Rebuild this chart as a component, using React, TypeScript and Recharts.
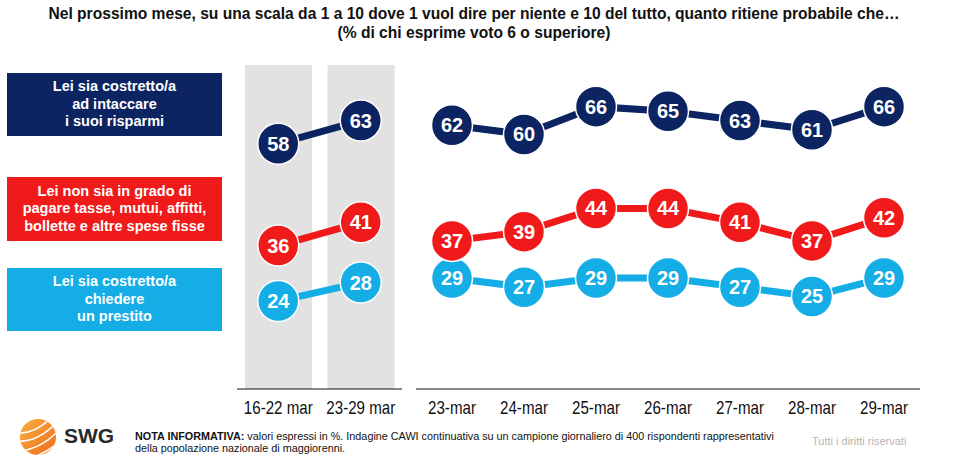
import React from 'react';
import { ComposedChart, Line, Bar, XAxis, YAxis } from 'recharts';

// ---------- data ----------
const weeklyCategories = ['16-22 mar', '23-29 mar'];
const weeklyRisparmi = [58, 63];
const weeklySpese = [36, 41];
const weeklyPrestito = [24, 28];

const dailyCategories = ['23-mar', '24-mar', '25-mar', '26-mar', '27-mar', '28-mar', '29-mar'];
const dailyRisparmi = [62, 60, 66, 65, 63, 61, 66];
const dailySpese = [37, 39, 44, 44, 41, 37, 42];
const dailyPrestito = [29, 27, 29, 29, 27, 25, 29];

const seriesLabels = [
  ['Lei sia costretto/a', 'ad intaccare', 'i suoi risparmi'],
  ['Lei non sia in grado di', 'pagare tasse, mutui, affitti,', 'bollette e altre spese fisse'],
  ['Lei sia costretto/a', 'chiedere', 'un prestito'],
];

const titleLines = [
  'Nel prossimo mese, su una scala da 1 a 10 dove 1 vuol dire per niente e 10 del tutto, quanto ritiene probabile che…',
  '(% di chi esprime voto 6 o superiore)',
];

const yDomain: [number, number] = [5, 75];

// ---------- styles ----------
const NAVY = '#0c2461';
const RED = '#f01a1a';
const LIGHTBLUE = '#14ade6';
const GREY = '#e2e2e2';
const SANS = '"Liberation Sans", Arial, sans-serif';

const weeklyData = weeklyCategories.map((c, i) => ({
  cat: c,
  risparmi: weeklyRisparmi[i],
  spese: weeklySpese[i],
  prestito: weeklyPrestito[i],
}));
const dailyData = dailyCategories.map((c, i) => ({
  cat: c,
  risparmi: dailyRisparmi[i],
  spese: dailySpese[i],
  prestito: dailyPrestito[i],
}));

const makeDot = (color: string, key: string) => (props: any) => {
  const { cx, cy, index, payload } = props;
  if (cx == null || cy == null) return <g key={`${key}-${index}`} />;
  const v = payload ? payload[key] : props.value;
  return (
    <g key={`${key}-${index}`}>
      <circle cx={cx} cy={cy} r={20.5} fill={color} stroke="#ffffff" strokeWidth={1.5} />
      <text
        x={cx}
        y={cy}
        dy={7}
        textAnchor="middle"
        fill="#ffffff"
        fontSize={20}
        fontWeight="bold"
        fontFamily={SANS}
      >
        {v}
      </text>
    </g>
  );
};

const NarrowTick = (props: any) => {
  const { x, y, payload } = props;
  return (
    <g transform={`translate(${x},${y})`}>
      <text
        transform="scale(0.84,1)"
        textAnchor="middle"
        dy="0.71em"
        fontSize={18}
        fill="#111"
        fontFamily={SANS}
      >
        {payload.value}
      </text>
    </g>
  );
};

function Panel({ data, withBg }: { data: any[]; withBg: boolean }) {
  const width = withBg ? 165 : 504;
  return (
    <ComposedChart width={width} height={354} data={data} margin={{ top: 0, right: 0, bottom: 0, left: 0 }}>
      <XAxis
        dataKey="cat"
        scale="band"
        height={30}
        tickLine={false}
        tickSize={0}
        tickMargin={12}
        axisLine={{ stroke: '#111', strokeWidth: 1 }}
        tick={<NarrowTick />}
        interval={0}
      />
      <YAxis hide domain={yDomain} type="number" allowDataOverflow />
      {withBg && (
        <Bar
          dataKey="risparmi"
          fill="transparent"
          barSize={67}
          background={{ fill: GREY }}
          isAnimationActive={false}
        />
      )}
      <Line
        dataKey="prestito"
        stroke={LIGHTBLUE}
        strokeWidth={7}
        dot={makeDot(LIGHTBLUE, 'prestito')}
        activeDot={false}
        isAnimationActive={false}
      />
      <Line
        dataKey="spese"
        stroke={RED}
        strokeWidth={7}
        dot={makeDot(RED, 'spese')}
        activeDot={false}
        isAnimationActive={false}
      />
      <Line
        dataKey="risparmi"
        stroke={NAVY}
        strokeWidth={7}
        dot={makeDot(NAVY, 'risparmi')}
        activeDot={false}
        isAnimationActive={false}
      />
    </ComposedChart>
  );
}

const boxes = [
  { color: NAVY, top: 73, height: 63 },
  { color: RED, top: 177, height: 64 },
  { color: LIGHTBLUE, top: 268, height: 63 },
];

function Logo() {
  return (
    <svg width={40} height={40} viewBox="0 0 40 40" style={{ position: 'absolute', left: 18, top: 417 }}>
      <defs>
        <linearGradient id="swgGrad" x1="0" y1="0" x2="1" y2="1">
          <stop offset="0%" stopColor="#fbb040" />
          <stop offset="100%" stopColor="#ee6a1c" />
        </linearGradient>
        <clipPath id="swgClip">
          <circle cx={20} cy={20} r={18} />
        </clipPath>
      </defs>
      <circle cx={20} cy={20} r={18} fill="url(#swgGrad)" />
      <g clipPath="url(#swgClip)" stroke="#ffffff" strokeWidth={1.6} fill="none">
        <path d="M -2 16 Q 16 18 34 0" />
        <path d="M -2 24 Q 20 26 40 4" />
        <path d="M 2 34 Q 24 32 42 12" />
        <path d="M 10 42 Q 30 36 44 22" />
      </g>
    </svg>
  );
}

export default function App() {
  return (
    <div
      style={{
        position: 'absolute',
        left: 0,
        top: 0,
        width: 955,
        height: 466,
        background: '#ffffff',
        overflow: 'hidden',
        fontFamily: SANS,
      }}
    >
      {/* title */}
      <div
        style={{
          position: 'absolute',
          left: 0,
          top: 4,
          width: 948,
          textAlign: 'center',
          fontFamily: SANS,
          fontWeight: 'bold',
          fontSize: 15.6,
          lineHeight: '19px',
          color: '#111',
        }}
      >
        {titleLines.map((t, i) => (
          <div key={i}>{t}</div>
        ))}
      </div>

      {/* series label boxes */}
      {boxes.map((b, i) => (
        <div
          key={i}
          style={{
            position: 'absolute',
            left: 7,
            top: b.top,
            width: 215,
            height: b.height,
            background: b.color,
            color: '#ffffff',
            fontWeight: 'bold',
            fontSize: 14.5,
            lineHeight: '17.5px',
            display: 'flex',
            flexDirection: 'column',
            justifyContent: 'center',
            alignItems: 'center',
            textAlign: 'center',
          }}
        >
          {seriesLabels[i].map((l, j) => (
            <div key={j}>{l}</div>
          ))}
        </div>
      ))}

      {/* weekly panel */}
      <div style={{ position: 'absolute', left: 237, top: 65 }}>
        <Panel data={weeklyData} withBg />
      </div>

      {/* daily panel */}
      <div style={{ position: 'absolute', left: 416, top: 65 }}>
        <Panel data={dailyData} withBg={false} />
      </div>

      {/* footer */}
      <Logo />
      <div
        style={{
          position: 'absolute',
          left: 64,
          top: 424,
          fontFamily: SANS,
          fontWeight: 'bold',
          fontSize: 21,
          color: '#2a2a2a',
          lineHeight: '24px',
        }}
      >
        SWG
      </div>
      <div
        style={{
          position: 'absolute',
          left: 135,
          top: 430,
          fontFamily: SANS,
          fontSize: 10.8,
          lineHeight: '12px',
          color: '#111',
          whiteSpace: 'nowrap',
        }}
      >
        <div>
          <b>NOTA INFORMATIVA:</b> valori espressi in %. Indagine CAWI continuativa su un campione giornaliero di 400
          rispondenti rappresentativi
        </div>
        <div>della popolazione nazionale di maggiorenni.</div>
      </div>
      <div
        style={{
          position: 'absolute',
          left: 812,
          top: 435,
          fontFamily: SANS,
          fontSize: 11,
          color: '#b5b5b5',
          whiteSpace: 'nowrap',
        }}
      >
        Tutti i diritti riservati
      </div>
    </div>
  );
}
